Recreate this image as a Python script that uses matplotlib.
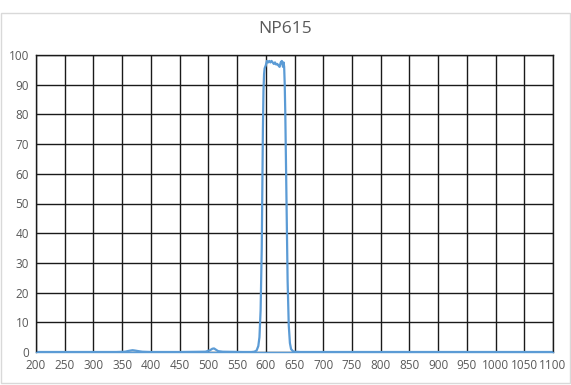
import matplotlib
matplotlib.use('Agg')
import matplotlib.pyplot as plt
import numpy as np

# transmission spectrum NP615
wavelength = [200, 250, 300, 340, 355, 362, 368, 372, 378, 385, 400, 450, 495, 503, 507, 510, 513,
              517, 525, 560, 575, 580, 584, 587, 589, 591, 593, 594, 595, 596, 597, 598, 600,
              602, 604, 606, 608, 610, 612, 614, 616, 618, 620, 622, 624, 626, 628, 629,
              630, 631, 632, 633, 634, 636, 638, 640, 642, 644, 647, 650, 660, 700, 800,
              900, 1000, 1100]
transmission = [0, 0, 0, 0, 0.1, 0.4, 0.6, 0.5, 0.3, 0.1, 0, 0, 0.1, 0.6, 1.1, 1.2, 0.8,
                0.3, 0.1, 0, 0, 0.1, 0.5, 2, 5, 14, 35, 55, 75, 88, 93.5, 95.5, 96.5,
                98, 97.5, 98, 97.5, 98, 97.5, 97, 97.5, 96.8, 97, 96.5, 96, 97.5, 98, 97,
                96, 97.5, 96, 90, 80, 52, 24, 9, 3, 1, 0.3, 0.1, 0, 0, 0,
                0, 0, 0]

xticks = list(range(200, 1101, 50))
yticks = list(range(0, 101, 10))

plt.rcParams['font.family'] = ['Open Sans', 'DejaVu Sans']

fig = plt.figure(figsize=(5.71, 3.85), dpi=100)
ax = fig.add_axes([36 / 571, 33 / 385, 517 / 571, 297 / 385])

ax.plot(wavelength, transmission, color='#5B9BD5', lw=1.6)

ax.set_xlim(200, 1100)
ax.set_ylim(0, 100)
ax.set_xticks(xticks)
ax.set_yticks(yticks)
ax.grid(True, color='#1a1a1a', lw=1.0)
ax.set_axisbelow(True)
ax.tick_params(length=0, labelsize=8.5, colors='#595959', pad=5)
for s in ax.spines.values():
    s.set_color('#1a1a1a')
    s.set_linewidth(1.0)
ax.spines['bottom'].set_color('#5B9BD5')

fig.text(0.5, 0.925, 'NP615', ha='center', va='center', fontsize=12.5, color='#595959')

# chart border
fig.patches.append(plt.Rectangle((0.002, 0.005), 0.996, 0.96, transform=fig.transFigure,
                                 fill=False, edgecolor='#d9d9d9', lw=1))

fig.savefig('out.png', dpi=100)
